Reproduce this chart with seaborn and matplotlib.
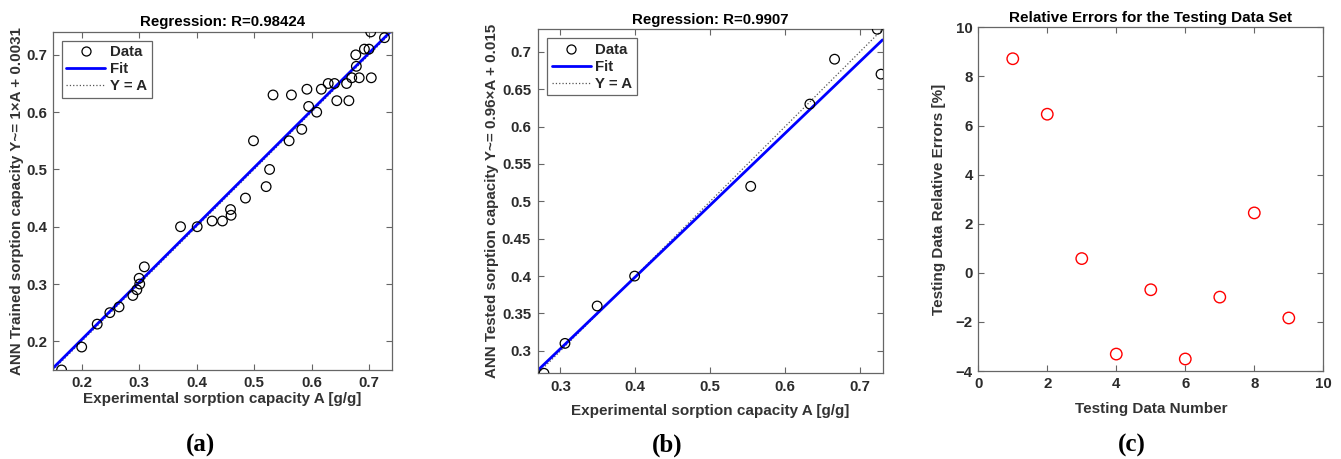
import numpy as np
import pandas as pd
import matplotlib
matplotlib.use("Agg")
import matplotlib.pyplot as plt
import seaborn as sns
from matplotlib.lines import Line2D
from matplotlib.ticker import FormatStrFormatter, MultipleLocator

# ---------------- data ----------------
train_target = [0.703, 0.727, 0.692, 0.700, 0.677, 0.678, 0.670, 0.683, 0.704,
                0.629, 0.640, 0.661, 0.617, 0.592, 0.644, 0.665, 0.533, 0.565,
                0.595, 0.609, 0.583, 0.499, 0.561, 0.527, 0.521, 0.485, 0.459,
                0.460, 0.427, 0.445, 0.372, 0.401, 0.309, 0.300, 0.301, 0.296,
                0.289, 0.265, 0.249, 0.227, 0.200, 0.165]
train_output = [0.74, 0.73, 0.71, 0.71, 0.70, 0.68, 0.66, 0.66, 0.66,
                0.65, 0.65, 0.65, 0.64, 0.64, 0.62, 0.62, 0.63, 0.63,
                0.61, 0.60, 0.57, 0.55, 0.55, 0.50, 0.47, 0.45, 0.43,
                0.42, 0.41, 0.41, 0.40, 0.40, 0.33, 0.31, 0.30, 0.29,
                0.28, 0.26, 0.25, 0.23, 0.19, 0.15]
train_fit = (1.0, 0.0031)
train_lim = (0.15, 0.74)

test_target = [0.723, 0.728, 0.666, 0.633, 0.554, 0.399, 0.349, 0.306, 0.278]
test_output = [0.73, 0.67, 0.69, 0.63, 0.52, 0.40, 0.36, 0.31, 0.27]
test_fit = (0.96, 0.015)
test_lim = (0.27, 0.73)

err_number = [1, 2, 3, 4, 5, 6, 7, 8, 9]
err_percent = [8.72, 6.46, 0.58, -3.31, -0.69, -3.51, -0.99, 2.44, -1.84]

titles = ["Regression: R=0.98424", "Regression: R=0.9907",
          "Relative Errors for the Testing Data Set"]
xlabels = ["Experimental sorption capacity A [g/g]",
           "Experimental sorption capacity A [g/g]",
           "Testing Data Number"]
ylabels = ["ANN Trained sorption capacity Y~= 1\u00d7A + 0.0031",
           "ANN Tested sorption capacity Y~= 0.96\u00d7A + 0.015",
           "Testing Data Relative Errors [%]"]
panel_tags = ["(a)", "(b)", "(c)"]

# ---------------- style ----------------
sns.set_theme(style="white")
plt.rcParams["font.family"] = ["Liberation Sans", "DejaVu Sans"]
plt.rcParams["font.weight"] = "bold"
plt.rcParams["axes.labelweight"] = "bold"
plt.rcParams["axes.titleweight"] = "bold"

W, H = 1341, 459
fig = plt.figure(figsize=(W / 100, H / 100), dpi=100)
ax_a = fig.add_axes([0.0395, 0.194, 0.2528, 0.7364])
ax_b = fig.add_axes([0.4012, 0.1867, 0.2569, 0.7495])
ax_c = fig.add_axes([0.7295, 0.1917, 0.2573, 0.7488])

TICK_COLOR = "#2b2b2b"
SPINE_COLOR = "#666666"


def style_axes(ax, pad=4):
    for s in ax.spines.values():
        s.set_color(SPINE_COLOR)
        s.set_linewidth(0.9)
        s.set_visible(True)
    ax.tick_params(direction="in", length=4, width=0.8, color=SPINE_COLOR,
                   top=True, right=True, bottom=True, left=True,
                   labelsize=10.8, labelcolor=TICK_COLOR, pad=pad)
    for lab in ax.get_xticklabels() + ax.get_yticklabels():
        lab.set_fontweight("bold")


def regression_panel(ax, xs, ys, fit, lim, title, xl, yl, ystep, xlpad, xtpad):
    df = pd.DataFrame({"A": xs, "Y": ys})
    sns.scatterplot(data=df, x="A", y="Y", ax=ax, marker="o", s=48,
                    facecolor="none", edgecolor="black", linewidth=0.9,
                    zorder=3, legend=False)
    grid = pd.DataFrame({"A": list(lim)})
    grid["Fit"] = fit[0] * grid["A"] + fit[1]
    grid["YA"] = grid["A"]
    sns.lineplot(data=grid, x="A", y="YA", ax=ax, color="#555555",
                 linestyle=":", linewidth=0.9, zorder=2)
    sns.lineplot(data=grid, x="A", y="Fit", ax=ax, color="#0000ff",
                 linewidth=2.0, zorder=2.5)
    ax.set_xlim(*lim)
    ax.set_ylim(*lim)
    ax.xaxis.set_major_locator(MultipleLocator(0.1))
    ax.yaxis.set_major_locator(MultipleLocator(ystep))
    ax.xaxis.set_major_formatter(FormatStrFormatter("%g"))
    ax.yaxis.set_major_formatter(FormatStrFormatter("%g"))
    ax.set_title(title, fontsize=10.8, fontweight="bold", pad=4, color="black")
    ax.set_xlabel(xl, fontsize=11, fontweight="bold", color="#333333", labelpad=xlpad)
    ax.set_ylabel(yl, fontsize=10.9, fontweight="bold", color="#333333", labelpad=2)
    handles = [
        Line2D([], [], marker="o", linestyle="none", markerfacecolor="none",
               markeredgecolor="black", markersize=6.5, markeredgewidth=0.9),
        Line2D([], [], color="#0000ff", linewidth=2.0),
        Line2D([], [], color="#555555", linestyle=":", linewidth=0.9),
    ]
    leg = ax.legend(handles, ["Data", "Fit", "Y = A"], loc="upper left",
                    fancybox=False, framealpha=1, edgecolor=SPINE_COLOR,
                    prop={"weight": "bold", "size": 10.8}, handlelength=2.6,
                    handletextpad=0.3, borderpad=0.3, labelspacing=0.2,
                    borderaxespad=0.6)
    leg.get_frame().set_linewidth(0.9)
    style_axes(ax, pad=xtpad)


regression_panel(ax_a, train_target, train_output, train_fit, train_lim,
                 titles[0], xlabels[0], ylabels[0], 0.1, 2, 4)
regression_panel(ax_b, test_target, test_output, test_fit, test_lim,
                 titles[1], xlabels[1], ylabels[1], 0.05, 7, 5)

# panel (c)
dfc = pd.DataFrame({"n": err_number, "e": err_percent})
sns.scatterplot(data=dfc, x="n", y="e", ax=ax_c, marker="o", s=68,
                facecolor="none", edgecolor="#ff0000", linewidth=1.0,
                legend=False, zorder=3)
ax_c.set_xlim(0, 10)
ax_c.set_ylim(-4, 10)
ax_c.xaxis.set_major_locator(MultipleLocator(2))
ax_c.yaxis.set_major_locator(MultipleLocator(2))
ax_c.set_title(titles[2], fontsize=11, fontweight="bold", pad=4, color="black")
ax_c.set_xlabel(xlabels[2], fontsize=11, fontweight="bold", color="#333333", labelpad=8)
ax_c.set_ylabel(ylabels[2], fontsize=11, fontweight="bold", color="#333333", labelpad=7)
style_axes(ax_c)

# panel tags (centred on each sub-figure)
tag_x_px = [200, 667, 1132]
for tx, tag in zip(tag_x_px, panel_tags):
    fig.text(tx / W, 1 - 445 / H, tag, ha="center", va="center",
             fontsize=18, family=["Liberation Serif", "DejaVu Serif"],
             fontweight="bold", color="black")

fig.savefig("out.png", dpi=100)
